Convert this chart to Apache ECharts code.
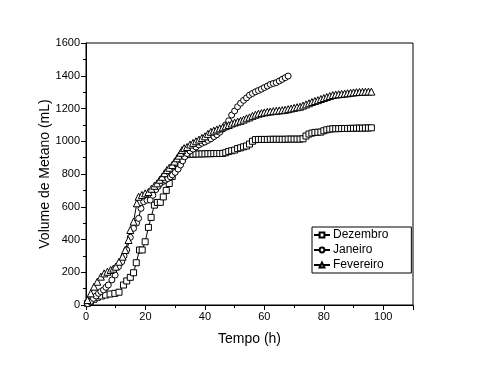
<!DOCTYPE html>
<html>
<head>
<meta charset="utf-8">
<script src="https://cdn.jsdelivr.net/npm/echarts@6/dist/echarts.min.js"></script>
<style>html,body{margin:0;padding:0;background:#fff}#c{width:480px;height:367px}</style>
</head>
<body>
<div id="c"></div>
<script>
// Dezembro (squares)
var dezTime = [0.5,1.5,2.7,3.8,5.2,6.6,8.1,9.7,11.1,12.6,13.7,14.9,16,16.9,18,18.9,19.9,21,21.9,23,24,25,26,27,28,29,30,31,32,33,34,35,36,37,38,39,40,41,42,43,44,45,46,47,48,49,50,51,52,53,54,55,56,57,58,59,60,61,62,63,64,65,66,67,68,69,70,71,72,73,74,75,76,77,78,79,80,81,82,83,84,85,86,87,88,89,90,91,92,93,94,95,96];
var dezVol  = [10,22,35,47,55,61,67,71,78,122,147,169,197,258,336,336,386,474,535,610,626,627,660,700,742,785,828,866,900,915,920,921,921,922,922,923,923,924,924,925,925,925,926,930,938,942,946,955,960,966,971,983,1000,1010,1011,1011,1011,1011,1012,1012,1012,1012,1012,1012,1013,1013,1013,1013,1013,1015,1032,1044,1050,1054,1055,1056,1064,1070,1074,1076,1077,1077,1078,1078,1078,1079,1079,1080,1080,1080,1081,1081,1082];
// Janeiro (circles)
var janTime = [0.5,1.5,2.5,3.4,4.2,5,5.9,6.7,7.5,8.7,9.8,10.9,12,12.8,13.7,14.9,16,17,17.7,18.5,19.4,20.5,21.6,22.5,23.5,24.3,25,26,26.7,27.5,28.4,29,30,31,31.8,32.5,33.2,34,35,36,37,38,39,40,41,42,43,44,45,46,47,48,49,50,51,52,53,54,55,56,57,58,59,60,61,62,63,64,65,66,67,68];
var janVol  = [8,20,40,55,71,82,92,108,122,153,183,234,264,300,336,413,468,500,529,590,631,640,641,670,705,725,743,755,763,772,783,795,810,830,855,880,905,925,940,952,965,978,988,995,1005,1015,1028,1040,1055,1075,1100,1125,1160,1185,1211,1232,1250,1265,1282,1292,1302,1310,1318,1328,1337,1347,1353,1358,1368,1378,1388,1398];
// Fevereiro (triangles)
var fevTime = [0.5,1.6,2.7,3.8,5,6.1,7.2,8.3,9.2,10,11.1,12.3,13.2,14.3,14.9,16,17.1,17.7,18.8,19.9,21,22,23,23.9,24.8,25.6,26.4,27.2,28,29,29.8,30.6,31.2,31.8,32.3,33,34,35,36,37,38,39,40,41,42,43,44,45,46,47,48,49,50,51,52,53,54,55,56,57,58,59,60,61,62,63,64,65,66,67,68,69,70,71,72,73,74,75,76,77,78,79,80,81,82,83,84,85,86,87,88,89,90,91,92,93,94,95,96];
var fevVol  = [30,71,112,142,173,193,203,214,222,234,264,295,336,397,458,509,621,661,672,682,690,710,728,743,765,783,805,824,838,855,876,896,912,930,946,958,965,980,990,1000,1010,1020,1030,1045,1058,1065,1072,1079,1085,1092,1099,1108,1114,1120,1125,1132,1140,1146,1155,1162,1168,1172,1176,1180,1182,1184,1186,1188,1190,1192,1196,1200,1204,1208,1211,1218,1225,1232,1240,1246,1251,1258,1264,1270,1276,1282,1285,1287,1289,1291,1293,1296,1298,1300,1301,1302,1302,1303,1303];

var seriesNames = ['Dezembro','Janeiro','Fevereiro'];
var xTicks = [0,20,40,60,80,100];
var yTicks = [0,200,400,600,800,1000,1200,1400,1600];

function zip(a,b){return a.map(function(t,i){return [t,b[i]];});}
var FONT = 'Liberation Sans';

function mk(name, sym, t, v, size){
  return {
    name:name, type:'line', data:zip(t,v), symbol:sym, symbolSize:size,
    showAllSymbol:true, animation:false,
    lineStyle:{color:'#000', width:1},
    itemStyle:{color:'#fff', borderColor:'#000', borderWidth:1}
  };
}

var chart = echarts.init(document.getElementById('c'), null, {renderer:'canvas'});
chart.setOption({
  animation:false,
  backgroundColor:'#fff',
  grid:{left:86, right:67, top:43, bottom:62, show:true, borderColor:'#000', borderWidth:1, backgroundColor:'transparent'},
  legend:{
    orient:'vertical', left:312, top:227,
    data:seriesNames,
    borderColor:'#000', borderWidth:1, borderRadius:0,
    padding:[2,23,2,1], itemGap:3, itemWidth:16, itemHeight:6,
    textStyle:{fontFamily:FONT, fontSize:12, color:'#000', padding:[0,0,0,-2]}
  },
  xAxis:{
    type:'value', min:0, max:110, interval:20,
    name:'Tempo (h)', nameLocation:'middle', nameGap:27, nameMoveOverlap:false,
    nameTextStyle:{fontFamily:FONT, fontSize:14, color:'#000'},
    axisLine:{show:true, lineStyle:{color:'#000', width:1}},
    axisTick:{show:true, inside:false, length:5, lineStyle:{color:'#000'}},
    minorTick:{show:true, splitNumber:2, length:3, lineStyle:{color:'#000'}},
    axisLabel:{fontFamily:FONT, fontSize:11, color:'#000', margin:6,
      formatter:function(v){return xTicks.indexOf(v)>=0 ? String(v) : '';}},
    splitLine:{show:false}
  },
  yAxis:{
    type:'value', min:0, max:1600, interval:200,
    name:'Volume de Metano (mL)', nameLocation:'middle', nameGap:34, nameMoveOverlap:false,
    nameTextStyle:{fontFamily:FONT, fontSize:14, color:'#000'},
    axisLine:{show:true, lineStyle:{color:'#000', width:1}},
    axisTick:{show:true, inside:false, length:5, lineStyle:{color:'#000'}},
    minorTick:{show:true, splitNumber:2, length:3, lineStyle:{color:'#000'}},
    axisLabel:{fontFamily:FONT, fontSize:11, color:'#000', margin:6,
      formatter:function(v){return yTicks.indexOf(v)>=0 ? String(v) : '';}},
    splitLine:{show:false}
  },
  series:[
    mk(seriesNames[0],'rect',dezTime,dezVol,6),
    mk(seriesNames[1],'circle',janTime,janVol,6),
    mk(seriesNames[2],'triangle',fevTime,fevVol,7)
  ]
});
</script>
</body>
</html>
